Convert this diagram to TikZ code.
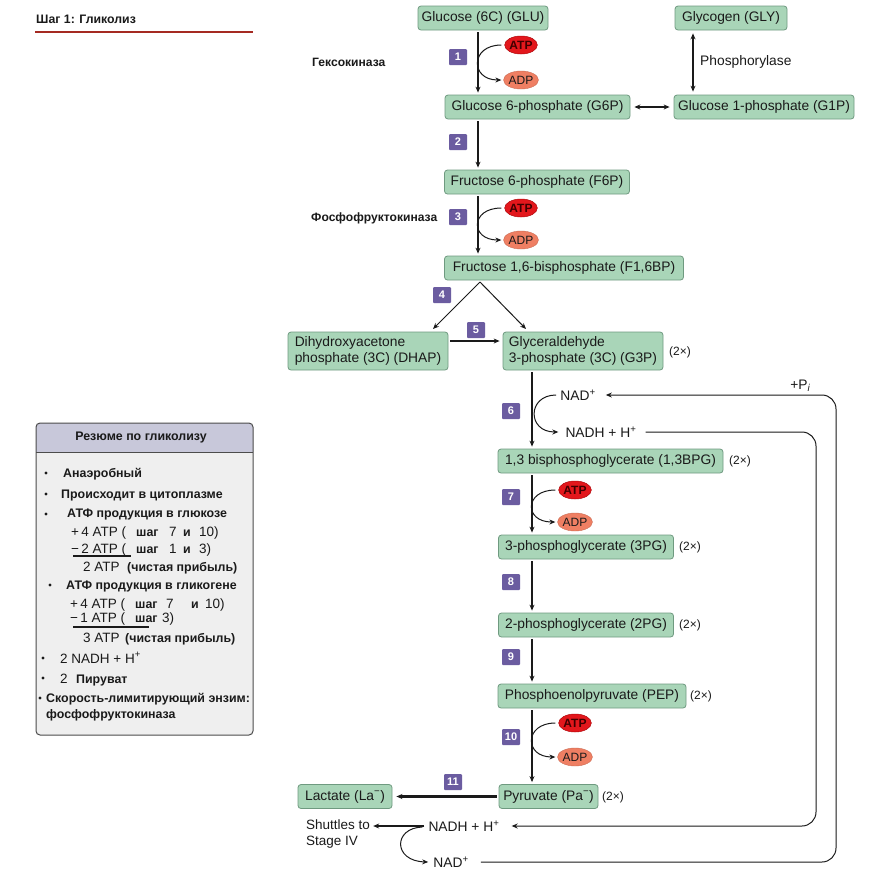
\documentclass[tikz,border=0pt]{standalone}
\usepackage{fontspec}
\setmainfont{Liberation Sans}
\usetikzlibrary{arrows.meta,shapes.geometric,calc}
\definecolor{boxgreen}{HTML}{A9D5B8}
\definecolor{boxedge}{HTML}{6F9A80}
\definecolor{stepc}{HTML}{6B5CA0}
\definecolor{atpc}{HTML}{E3171C}
\definecolor{atpedge}{HTML}{B0080C}
\definecolor{adpc}{HTML}{EF7F63}
\definecolor{titlered}{HTML}{A52A22}
\definecolor{headc}{HTML}{C8C8DA}
\definecolor{bodyc}{HTML}{EFEFEF}
\definecolor{inkc}{HTML}{1A1A1A}
\newcommand{\fsBox}{\fontsize{13.8}{16}\selectfont}
\newcommand{\fsRu}{\fontsize{12.1}{14}\selectfont\bfseries}
\newcommand{\fsSum}{\fontsize{12.4}{14}\selectfont\bfseries}
\newcommand{\fsReg}{\fontsize{13.5}{15}\selectfont}
\begin{document}
\begin{tikzpicture}[x=1pt,y=-1pt,
  mbox/.style={draw=boxedge, fill=boxgreen, rounded corners=3pt, line width=0.8pt, minimum height=24pt, inner xsep=0pt, inner ysep=0pt, font=\fsBox, text=inkc},
  stepbox/.style={fill=stepc, text=white, font=\fontsize{11}{11}\selectfont\bfseries, minimum width=18pt, minimum height=16pt, inner sep=0pt, rounded corners=1pt},
  atpnode/.style={ellipse, fill=atpc, draw=atpedge, line width=0.5pt, minimum width=30pt, minimum height=18pt, inner sep=0pt, font=\fontsize{12}{12}\selectfont\bfseries, text=black!75!red},
  adpnode/.style={ellipse, fill=adpc, draw=adpc!85!black, line width=0.4pt, minimum width=30pt, minimum height=18pt, inner sep=0pt, font=\fontsize{12}{12}\selectfont, text=inkc},
  mainarr/.style={-{Stealth[length=6pt,width=5pt]}, line width=1.6pt, draw=inkc},
  thinarr/.style={-{Stealth[length=6pt,width=5pt]}, line width=1pt, draw=inkc},
  lbl/.style={font=\fsBox, text=inkc, inner sep=0pt},
  twox/.style={font=\fontsize{12}{14}\selectfont, text=inkc, inner sep=0pt},
  rulab/.style={font=\fsRu, text=inkc, inner sep=0pt},
  sumb/.style={font=\fsSum, text=inkc, inner sep=0pt, anchor=base west},
  sumr/.style={font=\fsReg, text=inkc, inner sep=0pt, anchor=base west},
]
\useasboundingbox (0,0) rectangle (887,887);
\fill[white] (0,0) rectangle (887,887);

% title
\node[anchor=base west, font=\fontsize{12.3}{13}\selectfont\bfseries, text=inkc, inner sep=0pt] (title) at (36,23) {Шаг 1: Гликолиз};
\draw[titlered, line width=2pt] (35,32) -- (253,32);

% boxes
\node[mbox, minimum width=130pt] (glu) at (483,18) {Glucose (6C) (GLU)};
\node[mbox, minimum width=112pt] (gly) at (731,18) {Glycogen (GLY)};
\node[mbox, minimum width=185pt] (g6p) at (537.5,107) {Glucose 6-phosphate (G6P)};
\node[mbox, minimum width=180pt] (g1p) at (764,107) {Glucose 1-phosphate (G1P)};
\node[mbox, minimum width=185pt] (f6p) at (537,182) {Fructose 6-phosphate (F6P)};
\node[mbox, minimum width=239pt] (f16bp) at (564,268) {Fructose 1,6-bisphosphate (F1,6BP)};
\node[mbox, minimum width=160pt, minimum height=38pt, align=left] (dhap) at (368,351) {Dihydroxyacetone\\phosphate (3C) (DHAP)};
\node[mbox, minimum width=160pt, minimum height=38pt, align=left] (g3p) at (583,351) {Glyceraldehyde\\3-phosphate (3C) (G3P)};
\node[mbox, minimum width=225pt] (bpg) at (610.5,461) {1,3 bisphosphoglycerate (1,3BPG)};
\node[mbox, minimum width=175pt] (pg3) at (586,547) {3-phosphoglycerate (3PG)};
\node[mbox, minimum width=175pt] (pg2) at (586,625) {2-phosphoglycerate (2PG)};
\node[mbox, minimum width=188pt] (pep) at (592,696) {Phosphoenolpyruvate (PEP)};
\node[mbox, minimum width=99pt] (pyr) at (548.5,796.5) {Pyruvate (Pa\textsuperscript{−})};
\node[mbox, minimum width=94pt] (lac) at (345,796.5) {Lactate (La\textsuperscript{−})};

% (2x)
\node[twox] (x1) at (680,352) {(2×)};
\node[twox] (x2) at (740,461) {(2×)};
\node[twox] (x3) at (690,547) {(2×)};
\node[twox] (x4) at (690,625) {(2×)};
\node[twox] (x5) at (701,696) {(2×)};
\node[twox] (x6) at (613,797) {(2×)};

% step numbers
\node[stepbox] (s1) at (458,57) {1};
\node[stepbox] (s2) at (458,142) {2};
\node[stepbox] (s3) at (458,217) {3};
\node[stepbox] (s4) at (442,295) {4};
\node[stepbox] (s5) at (476,330) {5};
\node[stepbox] (s6) at (511,411) {6};
\node[stepbox] (s7) at (511,497) {7};
\node[stepbox] (s8) at (511,582) {8};
\node[stepbox] (s9) at (511,657) {9};
\node[stepbox] (s10) at (511,737) {10};
\node[stepbox] (s11) at (453,782) {11};

% enzyme labels
\node[rulab, anchor=base west] (hk) at (312,66) {Гексокиназа};
\node[rulab, anchor=base west] (pfk) at (311,221) {Фосфофруктокиназа};
\node[lbl, anchor=west] (phos) at (700,62) {Phosphorylase};

% ATP / ADP
\node[atpnode] (atp1) at (521,45) {ATP};
\node[adpnode] (adp1) at (521,80) {ADP};
\node[atpnode] (atp3) at (521,208) {ATP};
\node[adpnode] (adp3) at (521,240) {ADP};
\node[atpnode] (atp7) at (575,490) {ATP};
\node[adpnode] (adp7) at (575,522) {ADP};
\node[atpnode] (atp10) at (575,723) {ATP};
\node[adpnode] (adp10) at (575,757) {ADP};

% main vertical axis coordinates
\coordinate (ax1) at (478,0);
\coordinate (ax2) at (532,0);

% main arrows
\draw[mainarr, shorten <=2pt, shorten >=2pt] (glu.south -| ax1) -- (g6p.north -| ax1);
\draw[mainarr, shorten <=2pt, shorten >=2pt] (g6p.south -| ax1) -- (f6p.north -| ax1);
\draw[mainarr, shorten <=2pt, shorten >=2pt] (f6p.south -| ax1) -- (f16bp.north -| ax1);
\draw[mainarr, shorten <=2pt, shorten >=2pt] (g3p.south -| ax2) -- (bpg.north -| ax2);
\draw[mainarr, shorten <=2pt, shorten >=2pt] (bpg.south -| ax2) -- (pg3.north -| ax2);
\draw[mainarr, shorten <=2pt, shorten >=2pt] (pg3.south -| ax2) -- (pg2.north -| ax2);
\draw[mainarr, shorten <=2pt, shorten >=2pt] (pg2.south -| ax2) -- (pep.north -| ax2);
\draw[mainarr, shorten <=2pt, shorten >=2pt] (pep.south -| ax2) -- (pyr.north -| ax2);
\draw[mainarr, line width=2.2pt, shorten <=2pt, shorten >=4pt] (pyr.west) -- (lac.east);
\draw[mainarr, line width=1.8pt, shorten <=2pt, shorten >=3pt] (dhap.east |- 0,341) -- (g3p.west |- 0,341);

% glycogen / G1P
\draw[{Stealth[length=6pt,width=5pt]}-{Stealth[length=6pt,width=5pt]}, line width=1.5pt, inkc, shorten <=3pt, shorten >=3pt] (gly.south -| 693,0) -- (g1p.north -| 693,0);
\draw[{Stealth[length=6pt,width=5pt]}-{Stealth[length=6pt,width=5pt]}, line width=1.5pt, inkc, shorten <=4pt, shorten >=4pt] (g6p.east) -- (g1p.west);

% split of F1,6BP
\coordinate (apex) at (480,282);
\draw[thinarr] (apex) -- (433,329);
\draw[thinarr] (apex) -- (526,329);

% ATP/ADP curves
\draw[thinarr] ($(atp1.west)+(-3,0)$) .. controls (470,45) and (470,80) .. ($(adp1.west)+(-2,0)$);
\draw[thinarr] ($(atp3.west)+(-3,0)$) .. controls (470,208) and (470,240) .. ($(adp3.west)+(-2,0)$);
\draw[thinarr] ($(atp7.west)+(-3,0)$) .. controls (524,490) and (524,522) .. ($(adp7.west)+(-2,0)$);
\draw[thinarr] ($(atp10.west)+(-3,0)$) .. controls (524,723) and (524,757) .. ($(adp10.west)+(-2,0)$);

% NAD cycle
\node[lbl] (nadt) at (578,395) {NAD\textsuperscript{+}};
\node[lbl] (nadht) at (601,432) {NADH + H\textsuperscript{+}};
\node[lbl] (nadhb) at (464,826) {NADH + H\textsuperscript{+}};
\node[lbl] (nadb) at (451,862) {NAD\textsuperscript{+}};
\node[lbl, anchor=west, align=left, font=\fontsize{13.5}{16}\selectfont] (shut) at (306,834) {Shuttles to\\Stage IV};
\node[lbl, anchor=base] (pi) at (800,389) {+P\raisebox{-2.5pt}{\fontsize{10}{10}\selectfont\itshape i}};

\draw[thinarr] ($(nadt.west)+(-4,0)$) .. controls (527,395) and (527,432) .. ($(nadht.west)+(-7,0)$);
\draw[thinarr, rounded corners=14pt] ($(nadb.east)+(12,0)$) -- (836,862) -- (836,395) -- ($(nadt.east)+(10,0)$);
\draw[thinarr, rounded corners=14pt] ($(nadht.east)+(9,0)$) -- (816,432) -- (816,826) -- ($(nadhb.east)+(12,0)$);
\draw[mainarr, line width=1.8pt, shorten <=4pt, shorten >=3pt] (nadhb.west) -- (shut.east |- nadhb.west);
\draw[thinarr] ($(nadhb.west)+(-6,1)$) .. controls (393,828) and (393,861) .. ($(nadb.west)+(-5,0)$);

% summary box
\fill[bodyc, rounded corners=4pt] (36,423) rectangle (253,735);
\path[fill=headc] (36,452) [rounded corners=4pt] -- (36,423) -- (253,423) [sharp corners] -- (253,452) -- cycle;
\draw[black!70, line width=0.8pt] (36,452) -- (253,452);
\draw[black!70, line width=1pt, rounded corners=4pt] (36,423) rectangle (253,735);
\node[font=\fsSum, text=inkc, inner sep=0pt] (sumhead) at (141,438) {Резюме по гликолизу};

\foreach \xx/\yy in {46/473,46/494,46/514,50/585,43/658,43/678,40/698} {\fill[inkc] (\xx,\yy) circle (1.6pt);}
\node[sumb] (b1) at (63,477) {Анаэробный};
\node[sumb] (b2) at (61,498) {Происходит в цитоплазме};
\node[sumb] (b3) at (67,517) {АТФ продукция в глюкозе};
\node[sumr] (r1a) at (71,536) {+\,4 ATP (};
\node[sumb] (r1b) at (136,536) {шаг};
\node[sumr] (r1c) at (169,536) {7};
\node[sumb] (r1d) at (183,536) {и};
\node[sumr] (r1e) at (199,536) {10)};
\node[sumr] (r2a) at (71,553) {−\,2 ATP (};
\node[sumb] (r2b) at (136,553) {шаг};
\node[sumr] (r2c) at (169,553) {1};
\node[sumb] (r2d) at (183,553) {и};
\node[sumr] (r2e) at (199,553) {3)};
\draw[inkc, line width=1.2pt] (73,556) -- (131,556);
\node[sumr] (r3a) at (83,571) {2 ATP};
\node[sumb] (r3b) at (127,571) {(чистая прибыль)};
\node[sumb] (b4) at (66,589) {АТФ продукция в гликогене};
\node[sumr] (g1a) at (70,608) {+\,4 ATP (};
\node[sumb] (g1b) at (135,608) {шаг};
\node[sumr] (g1c) at (166,608) {7};
\node[sumb] (g1d) at (191,608) {и};
\node[sumr] (g1e) at (205,608) {10)};
\node[sumr] (g2a) at (70,622) {−\,1 ATP (};
\node[sumb] (g2b) at (135,622) {шаг};
\node[sumr] (g2c) at (162,622) {3)};
\draw[inkc, line width=1.8pt] (73,627) -- (149,627);
\node[sumr] (g3a) at (83,642) {3 ATP};
\node[sumb] (g3b) at (125,642) {(чистая прибыль)};
\node[sumr] (b5) at (60,663) {2 NADH + H\textsuperscript{+}};
\node[sumr] (b6a) at (60,683) {2};
\node[sumb] (b6b) at (76,683) {Пируват};
\node[sumb] (b7) at (46,702) {Скорость-лимитирующий энзим:};
\node[sumb] (b8) at (46,718) {фосфофруктокиназа};
\end{tikzpicture}
\end{document}
